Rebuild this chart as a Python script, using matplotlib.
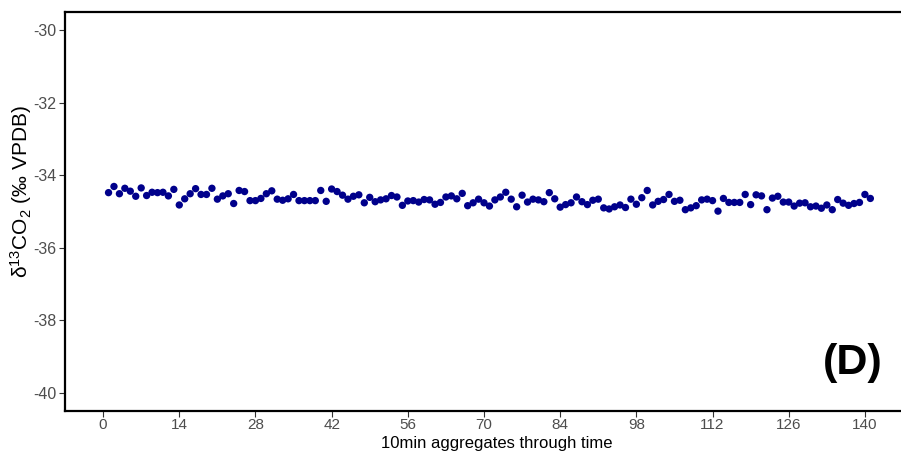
import matplotlib
matplotlib.use("Agg")
import matplotlib.pyplot as plt

plt.rcParams["font.family"] = ["Liberation Sans", "DejaVu Sans"]
plt.rcParams["axes.unicode_minus"] = False

# 10-minute aggregate index and delta13C values (permil VPDB)
step = list(range(1, 142))
d13c = [
    -34.48, -34.31, -34.51, -34.36, -34.44, -34.58, -34.35, -34.56, -34.47, -34.48,
    -34.47, -34.57, -34.39, -34.82, -34.65, -34.51, -34.37, -34.53, -34.53, -34.36,
    -34.66, -34.57, -34.51, -34.78, -34.42, -34.45, -34.70, -34.70, -34.64, -34.51,
    -34.43, -34.66, -34.69, -34.65, -34.53, -34.70, -34.70, -34.70, -34.70, -34.42,
    -34.72, -34.38, -34.45, -34.55, -34.66, -34.58, -34.54, -34.76, -34.61, -34.73,
    -34.68, -34.65, -34.56, -34.60, -34.83, -34.71, -34.70, -34.74, -34.67, -34.68,
    -34.80, -34.75, -34.60, -34.57, -34.65, -34.50, -34.84, -34.76, -34.66, -34.76,
    -34.85, -34.68, -34.60, -34.47, -34.66, -34.87, -34.55, -34.74, -34.66, -34.68,
    -34.73, -34.48, -34.65, -34.88, -34.81, -34.76, -34.60, -34.73, -34.81, -34.69,
    -34.66, -34.90, -34.93, -34.87, -34.82, -34.89, -34.66, -34.80, -34.62, -34.42,
    -34.82, -34.72, -34.67, -34.53, -34.72, -34.69, -34.95, -34.90, -34.84, -34.68,
    -34.66, -34.70, -34.99, -34.64, -34.75, -34.75, -34.75, -34.53, -34.81, -34.54,
    -34.57, -34.95, -34.63, -34.58, -34.74, -34.74, -34.85, -34.77, -34.76, -34.87,
    -34.85, -34.91, -34.82, -34.95, -34.67, -34.77, -34.83, -34.78, -34.75, -34.53,
    -34.64,
]
x_ticks = list(range(0, 141, 14))
y_ticks = list(range(-40, -29, 2))

W, H = 901, 451
fig = plt.figure(figsize=(W / 100, H / 100), dpi=100)
# right edge of the panel sits just past the picture, as in the original crop
ax = fig.add_axes([65 / W, 40 / H, 838 / W, 399 / H])

ax.scatter(step, d13c, s=28, color="#00008B", edgecolors="none", zorder=3)

ax.set_xlim(-7, 147)
ax.set_ylim(-40.5, -29.5)
ax.set_xticks(x_ticks)
ax.set_yticks(y_ticks)

for side in ax.spines.values():
    side.set_linewidth(1.6)
    side.set_color("black")

ax.tick_params(axis="both", length=4, width=0.8, color="#333333",
               labelcolor="#4D4D4D")
ax.tick_params(axis="y", labelsize=11.5, pad=2)
ax.tick_params(axis="x", labelsize=11, pad=1)

fig.text(497 / W, 0, "10min aggregates through time", fontsize=12,
         ha="center", va="bottom")
ax.set_ylabel(r"$\mathregular{\delta^{13}CO_2}$ (‰ VPDB)", fontsize=15)
ax.yaxis.set_label_coords(-0.037, 0.55)

ax.text(0.94, 0.12, "(D)", transform=ax.transAxes, fontsize=31,
        fontweight="bold", ha="center", va="center")

fig.savefig("out.png", dpi=100)
